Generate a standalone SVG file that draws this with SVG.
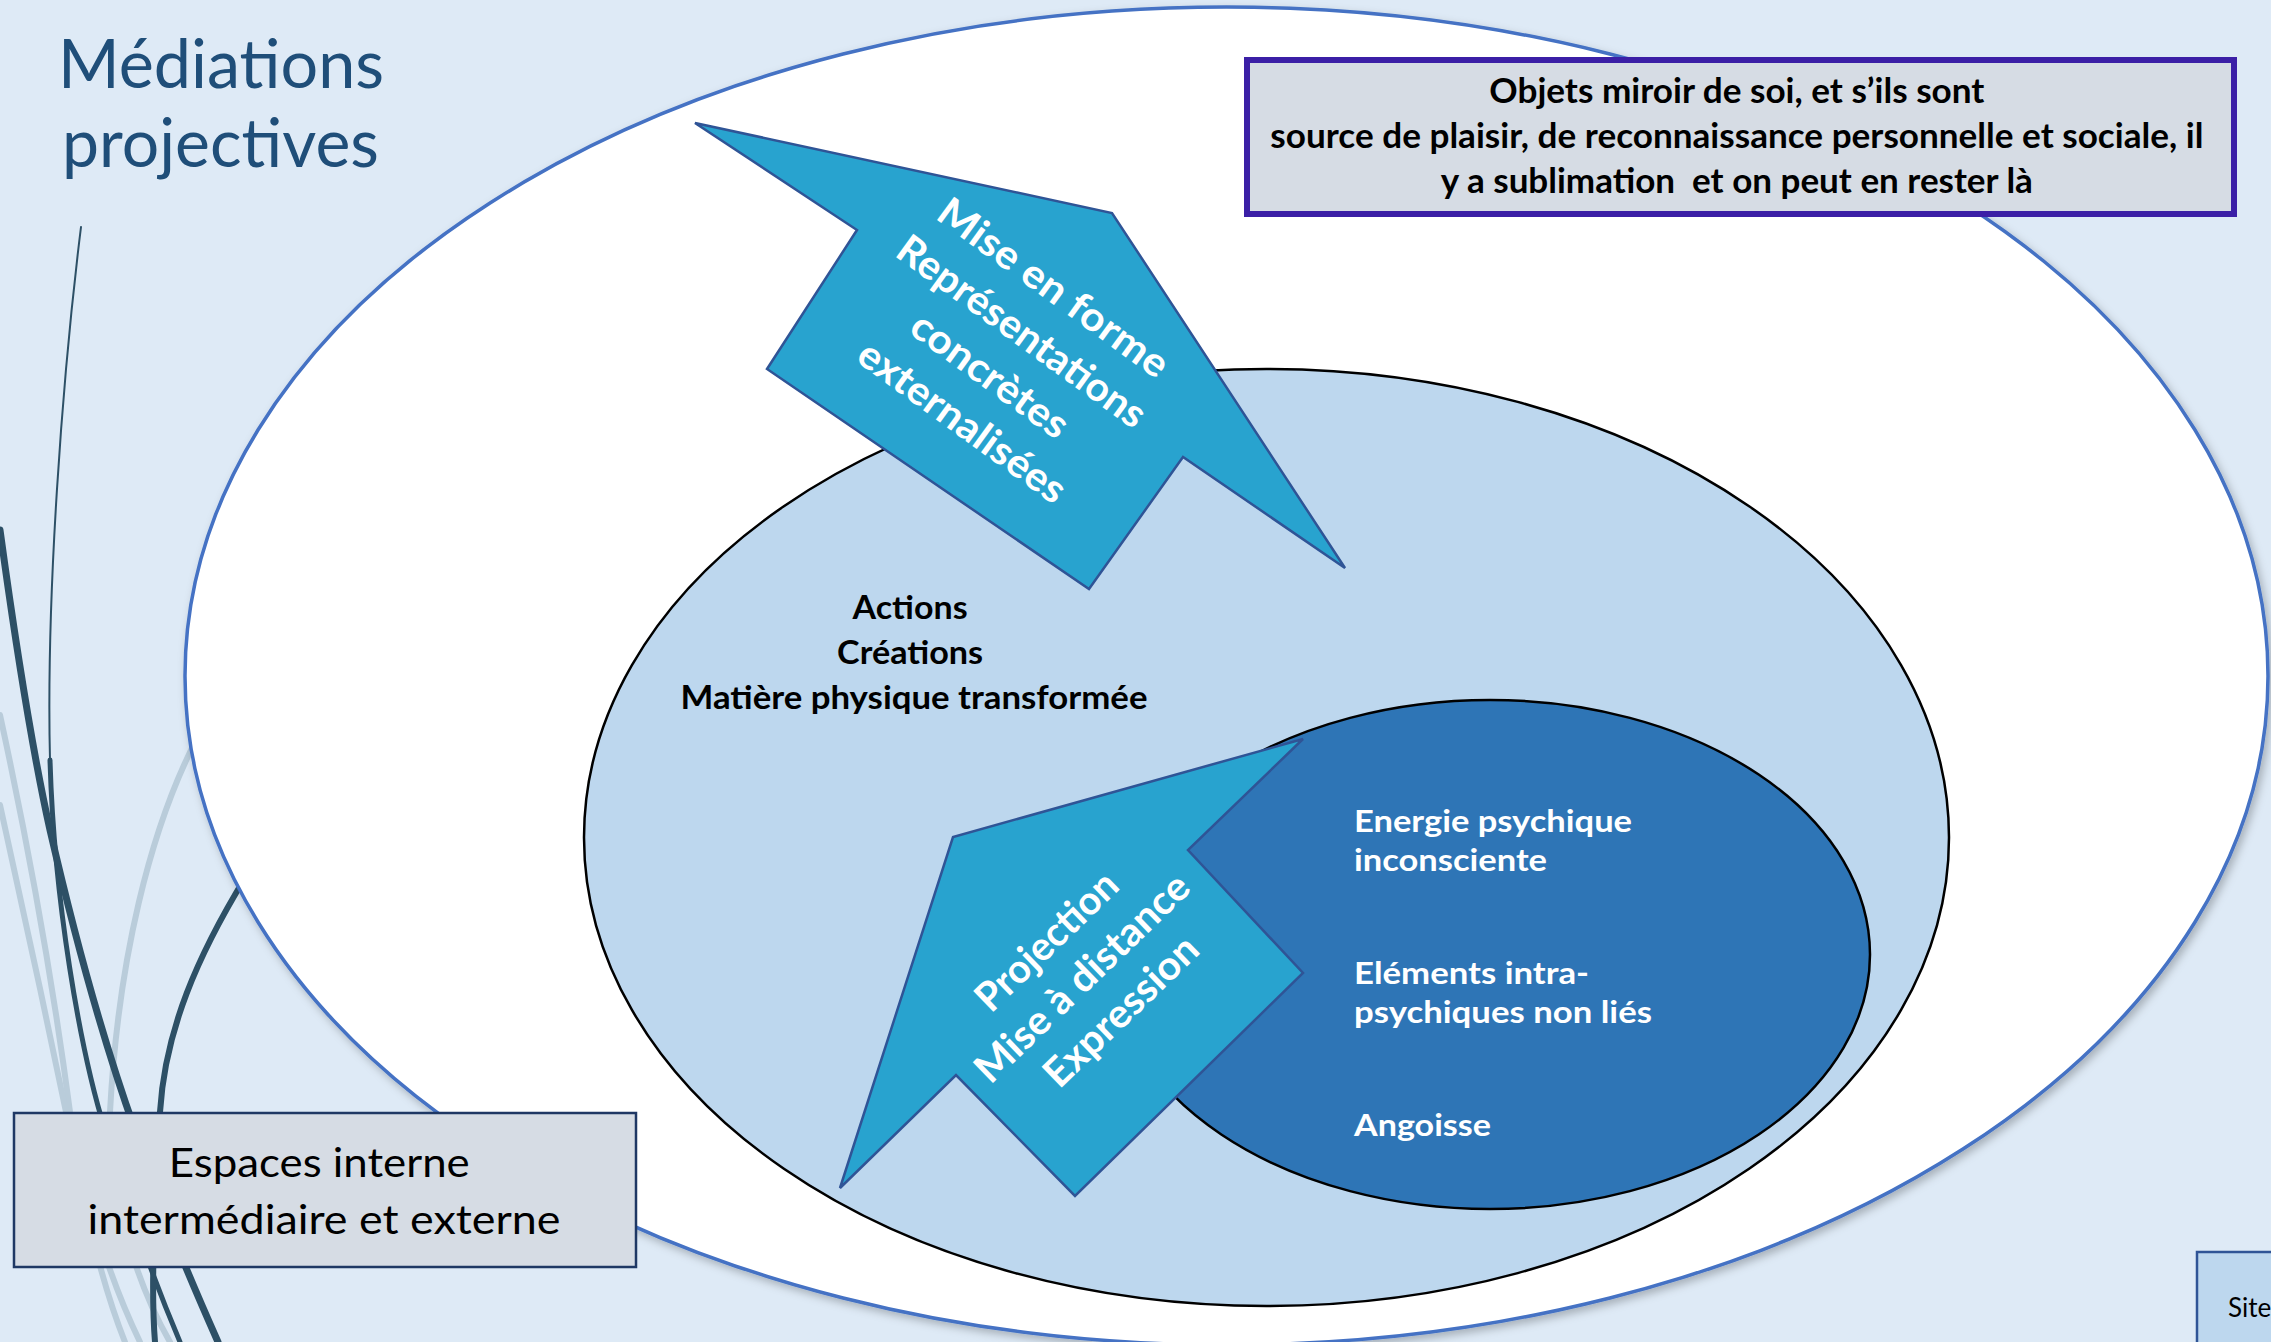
<svg xmlns="http://www.w3.org/2000/svg" width="2271" height="1342" viewBox="0 0 2271 1342">
<style>
.t{font-family:Lato,"Liberation Sans",sans-serif}
.b{font-family:Lato,"Liberation Sans",sans-serif;font-weight:700}
.dk{fill:none;stroke:#2D5066;stroke-linecap:round}
.lt{fill:none;stroke:#B9CCDA;stroke-width:6;stroke-linecap:round}
.arrow{fill:#28A3CF;stroke:#2F5496;stroke-width:2.5;stroke-linejoin:miter}
.wt{fill:#FFFFFF}
.bk{fill:#000000}
.box{fill:#D6DCE4}
</style>
<defs>
<filter id="sh" x="-5%" y="-5%" width="110%" height="110%">
<feDropShadow dx="3" dy="4" stdDeviation="4" flood-color="#000" flood-opacity="0.25"/>
</filter>
</defs>
<rect x="0" y="0" width="2271" height="1342" fill="#DEEAF6"/>

<g id="decor">
<path class="lt" d="M0 715 C25 830 50 960 70 1112 C85 1200 110 1280 140 1342"/>
<path class="lt" d="M0 805 C22 905 45 1010 66 1112 C82 1200 100 1280 125 1342"/>
<path class="lt" d="M196 740 C150 830 118 960 110 1112 C108 1200 140 1290 170 1342"/>
<path class="dk" stroke-width="2" d="M81 227 C62 380 46 600 50 760"/>
<path class="dk" stroke-width="5" d="M50 760 C54 900 80 1050 105 1130 C130 1215 158 1290 180 1342"/>
<path class="dk" stroke-width="7" d="M0 530 C15 640 30 740 50 830 C80 960 110 1060 135 1130 C160 1210 195 1290 218 1342"/>
<path class="dk" stroke-width="6" d="M245 878 C198 955 165 1030 160 1112 C156 1200 150 1280 155 1342"/>
</g>

<g id="title">
<text class="t" x="58" y="88" font-size="67" fill="#1F4E79" textLength="326" lengthAdjust="spacingAndGlyphs">Médiations</text>
<text class="t" x="62" y="167" font-size="67" fill="#1F4E79" textLength="317" lengthAdjust="spacingAndGlyphs">projectives</text>
</g>

<g id="outer-space">
<ellipse cx="1226.5" cy="676" rx="1041.5" ry="669" fill="#FFFFFF" stroke="#4472C4" stroke-width="3.5" filter="url(#sh)"/>
</g>

<g id="intermediate-space">
<ellipse cx="1266.5" cy="837.5" rx="682.5" ry="468.5" fill="#BDD7EE" stroke="#000000" stroke-width="2.5"/>
<text class="b bk" font-size="32" text-anchor="middle">
<tspan x="914" y="619" textLength="115" lengthAdjust="spacingAndGlyphs">Actions</tspan>
<tspan x="914" y="664" textLength="146" lengthAdjust="spacingAndGlyphs">Créations</tspan>
<tspan x="914" y="709" textLength="467" lengthAdjust="spacingAndGlyphs">Matière physique transformée</tspan>
</text>
</g>

<g id="internal-space">
<ellipse cx="1490" cy="954.5" rx="380" ry="254.5" fill="#2E75B6" stroke="#000000" stroke-width="2.5"/>
<text class="b wt" font-size="31">
<tspan x="1354" y="832" textLength="278" lengthAdjust="spacingAndGlyphs">Energie psychique</tspan>
<tspan x="1354" y="871" textLength="193" lengthAdjust="spacingAndGlyphs">inconsciente</tspan>
<tspan x="1354" y="984" textLength="235" lengthAdjust="spacingAndGlyphs">Eléments intra-</tspan>
<tspan x="1354" y="1023" textLength="298" lengthAdjust="spacingAndGlyphs">psychiques non liés</tspan>
<tspan x="1354" y="1136" textLength="137" lengthAdjust="spacingAndGlyphs">Angoisse</tspan>
</text>
</g>

<g id="connectors">
<g id="arrow-mise-en-forme">
<polygon class="arrow" points="695,123 1112,213 1345,568 1183,457 1089,589 767,369 857,230"/>
<g transform="translate(1010,356) rotate(36)">
<text class="b wt" font-size="40" text-anchor="middle">
<tspan x="0" y="-67" textLength="275" lengthAdjust="spacingAndGlyphs">Mise en forme</tspan>
<tspan x="0" y="-13" textLength="297" lengthAdjust="spacingAndGlyphs">Représentations</tspan>
<tspan x="0" y="41" textLength="185" lengthAdjust="spacingAndGlyphs">concrètes</tspan>
<tspan x="0" y="95" textLength="247" lengthAdjust="spacingAndGlyphs">externalisées</tspan>
</text>
</g>
</g>
<g id="arrow-projection">
<polygon class="arrow" points="1303,739 1188,850 1303,973 1075,1196 956,1075 840,1188 953,837"/>
<g transform="translate(1086,975) rotate(-44)">
<text class="b wt" font-size="40" text-anchor="middle">
<tspan x="0" y="-38" textLength="181" lengthAdjust="spacingAndGlyphs">Projection</tspan>
<tspan x="0" y="13" textLength="281" lengthAdjust="spacingAndGlyphs">Mise à distance</tspan>
<tspan x="0" y="64" textLength="198" lengthAdjust="spacingAndGlyphs">Expression</tspan>
</text>
</g>
</g>
</g>

<g id="box-objets">
<rect x="1247" y="60" width="987" height="154" class="box" stroke="#3B1FA6" stroke-width="6"/>
<text class="b bk" font-size="34" text-anchor="middle" style="white-space:pre">
<tspan x="1741" y="103" textLength="495" lengthAdjust="spacingAndGlyphs">Objets miroir de soi, et s’ils sont</tspan>
<tspan x="1741" y="148" textLength="933" lengthAdjust="spacingAndGlyphs">source de plaisir, de reconnaissance personnelle et sociale, il</tspan>
<tspan x="1741" y="193" textLength="592" lengthAdjust="spacingAndGlyphs">y a sublimation  et on peut en rester là</tspan>
</text>
</g>

<g id="box-espaces">
<rect x="14" y="1113" width="622" height="154" class="box" stroke="#1F3864" stroke-width="2.5"/>
<text class="t bk" font-size="41" text-anchor="middle">
<tspan x="324.5" y="1177" textLength="301" lengthAdjust="spacingAndGlyphs">Espaces interne</tspan>
<tspan x="324" y="1234" textLength="473" lengthAdjust="spacingAndGlyphs">intermédiaire et externe</tspan>
</text>
</g>

<g id="box-site">
<rect x="2197" y="1252" width="120" height="120" fill="#BDD7EE" stroke="#2F5496" stroke-width="2.5"/>
<text class="t bk" x="2228" y="1317" font-size="26">Site</text>
</g>
</svg>
